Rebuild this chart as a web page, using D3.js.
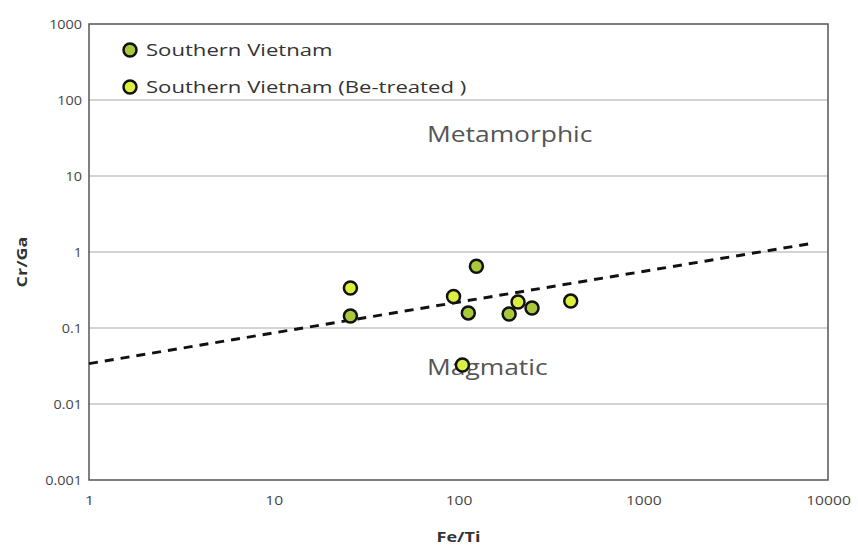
<!DOCTYPE html>
<html>
<head>
<meta charset="utf-8">
<script src="https://cdn.jsdelivr.net/npm/d3@7"></script>
<style>
  body { margin: 0; background: #fff; }
  svg text { font-family: "Open Sans", "Noto Sans", sans-serif; }
</style>
</head>
<body>
<div id="chart"></div>
<script>
// Southern Vietnam samples
const feTiA = [26, 125, 113, 188, 250];
const crGaA = [0.144, 0.65, 0.158, 0.153, 0.183];
// Southern Vietnam (Be-treated) samples
const feTiB = [26, 94, 210, 405, 105];
const crGaB = [0.336, 0.26, 0.22, 0.226, 0.0326];
// metamorphic / magmatic boundary
const boundaryX = [1, 8200];
const boundaryY = [0.034, 1.3];
const xTicks = [1, 10, 100, 1000, 10000];
const yTicks = [0.001, 0.01, 0.1, 1, 10, 100, 1000];
const seriesNames = ["Southern Vietnam", "Southern Vietnam (Be-treated )"];
const seriesColors = ["#a9c83a", "#dcef3e"];

const W = 858, H = 552;
const margin = { top: 24, right: 30, bottom: 72, left: 89 };

// the source picture is stretched sideways, so widen text the same way
function stretch(sel, k) {
  sel.each(function () {
    const len = this.getComputedTextLength();
    d3.select(this)
      .attr("textLength", len * k)
      .attr("lengthAdjust", "spacingAndGlyphs");
  });
}

const svg = d3.select("#chart").append("svg")
  .attr("width", W)
  .attr("height", H);

const x = d3.scaleLog()
  .domain([1, 10000])
  .range([margin.left, W - margin.right]);

const y = d3.scaleLog()
  .domain([0.001, 1000])
  .range([H - margin.bottom, margin.top]);

// horizontal grid
svg.append("g")
  .selectAll("line")
  .data(yTicks.slice(1, -1))
  .join("line")
  .attr("x1", x(1)).attr("x2", x(10000))
  .attr("y1", d => y(d)).attr("y2", d => y(d))
  .attr("stroke", "#c4c4c4")
  .attr("stroke-width", 1.5);

// plot frame
svg.append("rect")
  .attr("x", x(1)).attr("y", y(1000))
  .attr("width", x(10000) - x(1))
  .attr("height", y(0.001) - y(1000))
  .attr("fill", "none")
  .attr("stroke", "#555")
  .attr("stroke-width", 1.5);

// axes
const fmt = d => String(d);
svg.append("g")
  .attr("transform", `translate(0,${y(0.001) + 6})`)
  .call(d3.axisBottom(x).tickValues(xTicks).tickFormat(fmt).tickSize(0).tickPadding(10))
  .call(g => g.select(".domain").remove())
  .call(g => g.selectAll("text").attr("fill", "#444").style("font-size", "13px").call(stretch, 1.2));

svg.append("g")
  .attr("transform", `translate(${x(1) - 5},0)`)
  .call(d3.axisLeft(y).tickValues(yTicks).tickFormat(fmt).tickSize(0).tickPadding(2))
  .call(g => g.select(".domain").remove())
  .call(g => g.selectAll("text").attr("fill", "#444").style("font-size", "12.5px").call(stretch, 1.15));

// axis titles
svg.append("text")
  .attr("x", x(100))
  .attr("y", 542)
  .attr("text-anchor", "middle")
  .attr("fill", "#333")
  .style("font-size", "15px")
  .style("font-weight", "bold")
  .text("Fe/Ti")
  .call(stretch, 1.2);

svg.append("text")
  .attr("transform", `translate(27,${y(1) + 10}) rotate(-90)`)
  .attr("text-anchor", "middle")
  .attr("fill", "#333")
  .style("font-size", "15px")
  .style("font-weight", "bold")
  .text("Cr/Ga")
  .call(stretch, 1.2);

// field labels
svg.append("text")
  .attr("x", 427).attr("y", 142)
  .attr("fill", "#555")
  .style("font-size", "22px")
  .text("Metamorphic")
  .call(stretch, 1.2);

svg.append("text")
  .attr("x", 427).attr("y", 375)
  .attr("fill", "#555")
  .style("font-size", "22px")
  .text("Magmatic")
  .call(stretch, 1.2);

// boundary line
const line = d3.line()
  .x(d => x(d[0]))
  .y(d => y(d[1]));

svg.append("path")
  .datum(d3.zip(boundaryX, boundaryY))
  .attr("fill", "none")
  .attr("stroke", "#111")
  .attr("stroke-width", 3)
  .attr("stroke-dasharray", "9,7")
  .attr("d", line);

// points
const groups = [d3.zip(feTiA, crGaA), d3.zip(feTiB, crGaB)];
groups.forEach((pts, i) => {
  svg.append("g")
    .selectAll("circle")
    .data(pts)
    .join("circle")
    .attr("cx", d => x(d[0]))
    .attr("cy", d => y(d[1]))
    .attr("r", 6.5)
    .attr("fill", seriesColors[i])
    .attr("stroke", "#111")
    .attr("stroke-width", 2.5);
});

// legend
const legend = svg.append("g");
seriesNames.forEach((name, i) => {
  const ly = 50 + i * 37;
  legend.append("circle")
    .attr("cx", 130).attr("cy", ly)
    .attr("r", 6.5)
    .attr("fill", seriesColors[i])
    .attr("stroke", "#111")
    .attr("stroke-width", 2.5);
  legend.append("text")
    .attr("x", 146).attr("y", ly + 6)
    .attr("fill", "#333")
    .style("font-size", "17px")
    .text(name)
    .call(stretch, 1.3);
});
</script>
</body>
</html>
